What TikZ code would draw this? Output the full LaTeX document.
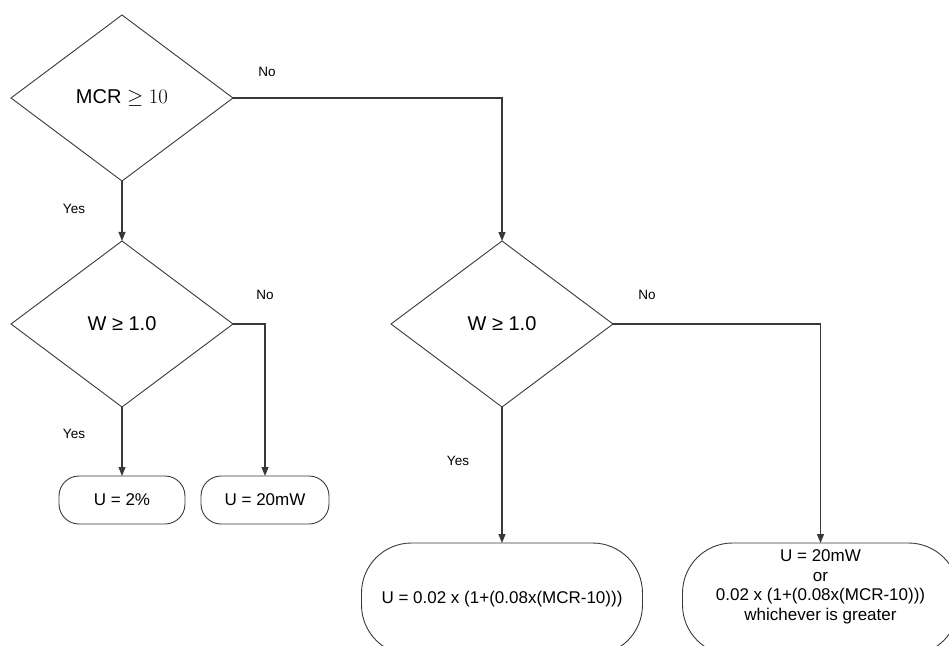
\documentclass[tikz,border=0pt]{standalone}
\usepackage{fontspec}
\setmainfont{Liberation Sans}
\usepackage{tikz}
\usetikzlibrary{arrows.meta,shapes.geometric,positioning}

\begin{document}
\begin{tikzpicture}[
    x=1pt, y=-1pt,
    >={Triangle[length=9pt,width=7pt]},
    line/.style ={draw=black!78, line width=1.1pt},
    dec/.style  ={line, line width=0.9pt, diamond, aspect=1.34,
                  inner sep=0pt, outer sep=0pt,
                  minimum width=222pt, minimum height=166pt,
                  font=\fontsize{20}{24}\selectfont},
    term/.style ={line, line width=0.9pt, rounded corners=20pt,
                  align=center, outer sep=0pt,
                  minimum width=126pt, minimum height=48pt,
                  font=\fontsize{17}{20}\selectfont},
    bigterm/.style={term, rounded corners=50pt,
                  minimum width=281pt, minimum height=112pt},
    note/.style ={font=\fontsize{13.5}{16}\selectfont},
    arr/.style  ={line, ->}
]
\useasboundingbox (0,0) rectangle (949,645);
% --- decisions ---------------------------------------------------------
\node[dec] (mcr) at (122,98) {MCR $\geq 10$};
\node[dec, below=60pt of mcr]  (wl) {W ≥ 1.0};
\node[dec, right=158pt of wl]  (wr) {W ≥ 1.0};
% --- outcomes ----------------------------------------------------------
\node[term, below=69pt of wl]          (pct)  {U = 2\%};
\node[term, right=16pt of pct,
      minimum width=128pt]             (mw)   {U = 20mW};
\node[bigterm, below=136pt of wr]      (form) {U = 0.02 x (1+(0.08x(MCR-10)))};
\node[bigterm, right=40pt of form, minimum width=276pt,
      label={[align=center, yshift=12pt, font=\fontsize{17}{19.5}\selectfont]center:
             U = 20mW\\or\\0.02 x (1+(0.08x(MCR-10)))\\whichever is greater}]
                                       (max)  {};
% --- arrows ------------------------------------------------------------
\draw[arr] (mcr) -- node[note, pos=0.47, xshift=-48pt]{Yes} (wl);
\draw[arr] (mcr.east) -| node[note, pos=0.063, yshift=26pt]{No} (wr.north);
\draw[arr] (wl) -- node[note, pos=0.39, xshift=-48pt]{Yes} (pct);
\draw[arr] (wl.east) -| node[note, pos=0.5, yshift=29pt]{No} (mw.north);
\draw[arr] (wr) -- node[note, pos=0.4, xshift=-44pt]{Yes} (form);
\draw[arr] (wr.east) -| node[note, pos=0.082, yshift=29pt]{No} (max.north);
\end{tikzpicture}
\end{document}
